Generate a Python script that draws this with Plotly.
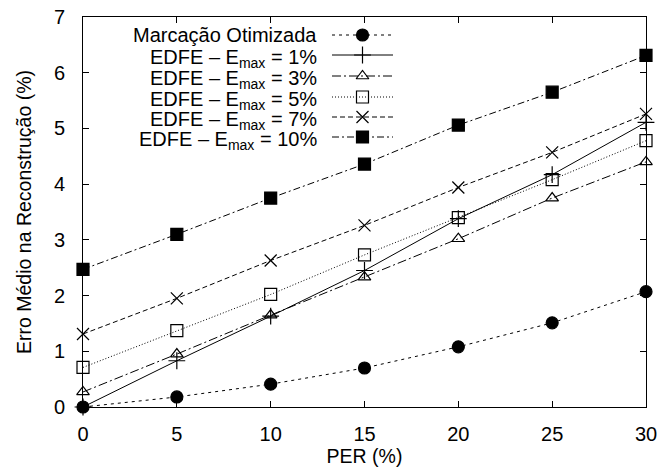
import plotly.graph_objects as go

per = [0, 5, 10, 15, 20, 25, 30]
marcacao = [0.00, 0.18, 0.41, 0.70, 1.08, 1.51, 2.07]
edfe_1 = [0.00, 0.83, 1.63, 2.45, 3.38, 4.17, 5.11]
edfe_3 = [0.27, 0.95, 1.65, 2.33, 3.02, 3.75, 4.40]
edfe_5 = [0.71, 1.37, 2.02, 2.73, 3.40, 4.08, 4.78]
edfe_7 = [1.31, 1.95, 2.63, 3.26, 3.94, 4.57, 5.26]
edfe_10 = [2.47, 3.10, 3.75, 4.36, 5.06, 5.65, 6.31]

names = [
    "Marcação Otimizada",
    "EDFE – E<sub>max</sub> = 1%",
    "EDFE – E<sub>max</sub> = 3%",
    "EDFE – E<sub>max</sub> = 5%",
    "EDFE – E<sub>max</sub> = 7%",
    "EDFE – E<sub>max</sub> = 10%",
]
series = [marcacao, edfe_1, edfe_3, edfe_5, edfe_7, edfe_10]
styles = [
    dict(dash="3px,4px", symbol="circle", size=12),
    dict(dash="solid", symbol="cross-thin-open", size=12),
    dict(dash="9px,3px,2px,3px", symbol="triangle-up-open", size=11),
    dict(dash="1px,2px", symbol="square-open", size=12),
    dict(dash="5px,3px", symbol="x-thin-open", size=12),
    dict(dash="7px,3px,2px,3px", symbol="square", size=12),
]

FONT = "Liberation Sans, Arial, sans-serif"
fig = go.Figure()

for name, ys, st in zip(names, series, styles):
    fig.add_trace(go.Scatter(
        x=per, y=ys, mode="lines+markers", name=name, showlegend=False,
        line=dict(color="black", width=1, dash=st["dash"]),
        marker=dict(symbol=st["symbol"], size=st["size"], color="black",
                    line=dict(color="black", width=1.2)),
        cliponaxis=False,
    ))

# custom key (gnuplot style: right-aligned text, sample on the right)
key_rows = [35, 55, 76, 97, 117, 137]
key_x0, key_x1, key_text_right = 332, 393, 319
for name, st, ky in zip(names, styles, key_rows):
    fig.add_trace(go.Scatter(
        x=[key_x0, key_x1], y=[ky, ky], mode="lines", xaxis="x2", yaxis="y2",
        showlegend=False, hoverinfo="skip",
        line=dict(color="black", width=1, dash=st["dash"]),
    ))
    fig.add_trace(go.Scatter(
        x=[(key_x0 + key_x1) / 2], y=[ky], mode="markers", xaxis="x2", yaxis="y2",
        showlegend=False, hoverinfo="skip", cliponaxis=False,
        marker=dict(symbol=st["symbol"], size=st["size"], color="black",
                    line=dict(color="black", width=1.2)),
    ))
    fig.add_annotation(
        x=key_text_right, y=ky, xref="x2", yref="y2", text=name, showarrow=False,
        xanchor="right", yanchor="middle", font=dict(family=FONT, size=20, color="black"),
        yshift=-3 if "<sub>" in name else 0,
    )

axis_common = dict(
    showline=True, linecolor="black", linewidth=1, mirror="ticks",
    ticks="inside", ticklen=6, tickwidth=1, tickcolor="black",
    showgrid=False, zeroline=False, automargin=False,
    tickfont=dict(family=FONT, size=20, color="black"),
)

fig.update_layout(
    width=662, height=470,
    margin=dict(l=83, r=16, t=17, b=63),
    plot_bgcolor="white", paper_bgcolor="white",
    font=dict(family=FONT, size=20, color="black"),
    xaxis=dict(range=[0, 30], tickvals=[0, 5, 10, 15, 20, 25, 30],
               title=dict(text="PER (%)", font=dict(family=FONT, size=19.5), standoff=4),
               ticklabelstandoff=9, **axis_common),
    yaxis=dict(range=[0, 7], tickvals=[0, 1, 2, 3, 4, 5, 6, 7],
               title=dict(text="Erro Médio na Reconstrução (%)", font=dict(family=FONT, size=19.5), standoff=17),
               ticklabelstandoff=13, **axis_common),
    xaxis2=dict(range=[83, 646], overlaying="x", visible=False, fixedrange=True),
    yaxis2=dict(range=[407, 17], overlaying="y", visible=False, fixedrange=True),
    showlegend=False,
)

fig.write_html("out.html")
